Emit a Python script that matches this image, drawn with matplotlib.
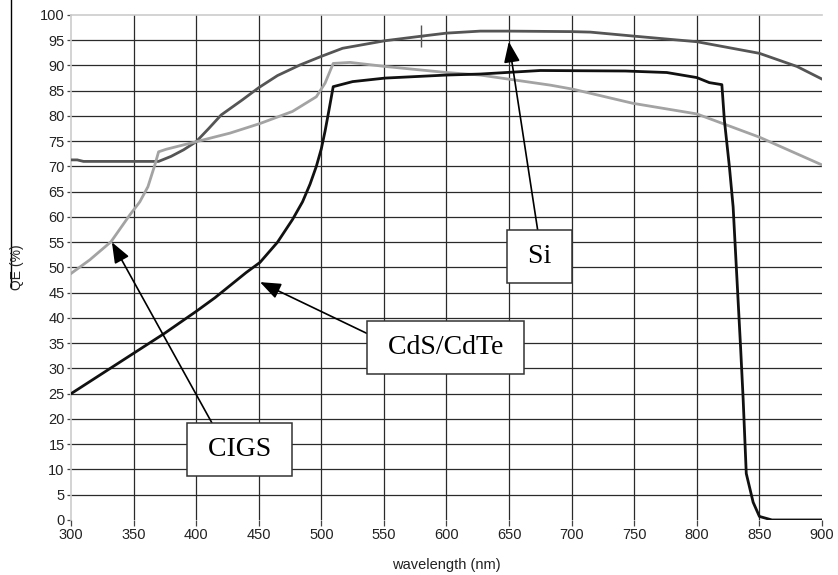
import matplotlib
matplotlib.use('Agg')
import matplotlib.pyplot as plt
from matplotlib.lines import Line2D

plt.rcParams['font.family'] = ['Liberation Sans', 'DejaVu Sans']

# QE curves
wl_si = [300, 305, 310, 340, 370, 380, 390, 400, 410, 420, 437, 450, 465, 483, 500, 517, 551, 580,
         600, 627, 650, 700, 715, 750, 800, 850, 880, 900]
qe_si = [71.3, 71.3, 71.0, 71.0, 71.0, 72.0, 73.3, 74.9, 77.5, 80.2, 83.2, 85.6, 88.0, 90.1,
         91.8, 93.4, 94.9, 95.8, 96.4, 96.8, 96.8, 96.7, 96.6, 95.8, 94.7, 92.4, 89.8, 87.3]

wl_cigs = [300, 315, 332, 347, 355, 361.5, 367, 370, 376, 400, 427, 451, 477, 496, 503, 509.5,
           523, 551, 600, 627, 683, 701, 749, 800, 850, 900]
qe_cigs = [48.8, 51.5, 55.1, 60.4, 63.0, 66.0, 70.3, 72.9, 73.4, 74.9, 76.6, 78.5, 80.9, 83.8,
           86.5, 90.4, 90.6, 89.8, 88.6, 88.1, 86.1, 85.3, 82.5, 80.4, 75.8, 70.3]

wl_cdte = [300, 325, 350, 375, 400, 415, 430, 440, 451, 465, 477, 485, 491, 496, 500, 503, 506,
           509.5, 525, 551, 600, 627, 675, 743, 776, 800, 810, 820, 822, 826, 829, 832, 835, 837,
           839.5, 845, 850, 860, 900]
qe_cdte = [25.0, 29.0, 33.0, 37.0, 41.3, 44.0, 47.0, 49.0, 51.0, 55.0, 59.5, 63.0, 66.5, 70.0,
           73.5, 77.0, 81.0, 85.8, 86.8, 87.5, 88.1, 88.3, 89.0, 88.9, 88.6, 87.6, 86.6, 86.2,
           79.2, 70.0, 62.0, 48.0, 34.0, 24.0, 9.2, 3.5, 0.7, 0.0, 0.0]

cursor_wl = [580]
cursor_qe = [95.8]

x_ticks = list(range(300, 901, 50))
y_ticks = list(range(0, 101, 5))

fig = plt.figure(figsize=(8.38, 5.75), dpi=100)
ax = fig.add_axes([0.0847, 0.0957, 0.8962, 0.8783])

# grid drawn by hand so the frame edges stay light
for v in y_ticks[1:-1]:
    ax.axhline(v, color='#2a2a2a', lw=0.9, zorder=1)
for v in x_ticks[1:-1]:
    ax.axvline(v, color='#2a2a2a', lw=0.9, zorder=1)

ax.plot(wl_si, qe_si, color='#555555', lw=2.0, zorder=3)
ax.plot(wl_cigs, qe_cigs, color='#a3a3a3', lw=2.0, zorder=3)
ax.plot(wl_cdte, qe_cdte, color='#111111', lw=2.0, zorder=4)
ax.plot(cursor_wl, cursor_qe, marker='|', ms=16, mew=1.0, color='#555555', ls='none', zorder=5)
ax.plot(cursor_wl, cursor_qe, marker='_', ms=5, mew=1.0, color='#555555', ls='none', zorder=5)

ax.set_xlim(300, 900)
ax.set_ylim(0, 100)
ax.set_xticks(x_ticks)
ax.set_yticks(y_ticks)
ax.tick_params(axis='y', length=3, width=0.9, color='#444444', pad=1.5, labelsize=10.5,
               labelcolor='#222222')
ax.tick_params(axis='x', length=4.5, width=0.9, color='#444444', pad=1.5, labelsize=10.5,
               labelcolor='#222222')

for side in ['left', 'top']:
    ax.spines[side].set_color('#cccccc')
    ax.spines[side].set_linewidth(1.2)
for side in ['right', 'bottom']:
    ax.spines[side].set_visible(False)

fig.text(0.0203, 0.535, 'QE (%)', rotation=90, ha='center', va='center', fontsize=10,
         color='#222222')
fig.text(0.533, 0.018, 'wavelength (nm)', ha='center', va='center', fontsize=10.5,
         color='#222222')

# stray frame line at the left edge of the picture
fig.add_artist(Line2D([0.0131, 0.0131], [1.0, 0.501], color='black', lw=1.0,
                      transform=fig.transFigure))

box = dict(boxstyle='square,pad=0.5', fc='white', ec='#333333', lw=1.1)
arrow = dict(arrowstyle='-|>,head_length=0.9,head_width=0.35', color='black', lw=1.2,
             mutation_scale=14, shrinkA=0, shrinkB=0)

ax.annotate(' Si ', xy=(649.8, 94.7), xytext=(674.6, 52.1), ha='center', va='center',
            fontsize=20, family='Liberation Serif', bbox=box,
            arrowprops=dict(arrow, relpos=(0.5, 1.0)), zorder=6)
ax.annotate(' CdS/CdTe ', xy=(451, 47.1), xytext=(599.5, 34.1), ha='center', va='center',
            fontsize=20, family='Liberation Serif', bbox=box,
            arrowprops=dict(arrow, relpos=(0.0, 0.8)), zorder=6)
ax.annotate(' CIGS ', xy=(332.7, 55.0), xytext=(435, 13.9), ha='center', va='center',
            fontsize=20, family='Liberation Serif', bbox=box,
            arrowprops=dict(arrow, relpos=(0.24, 1.0)), zorder=6)

fig.savefig('out.png', dpi=100)
